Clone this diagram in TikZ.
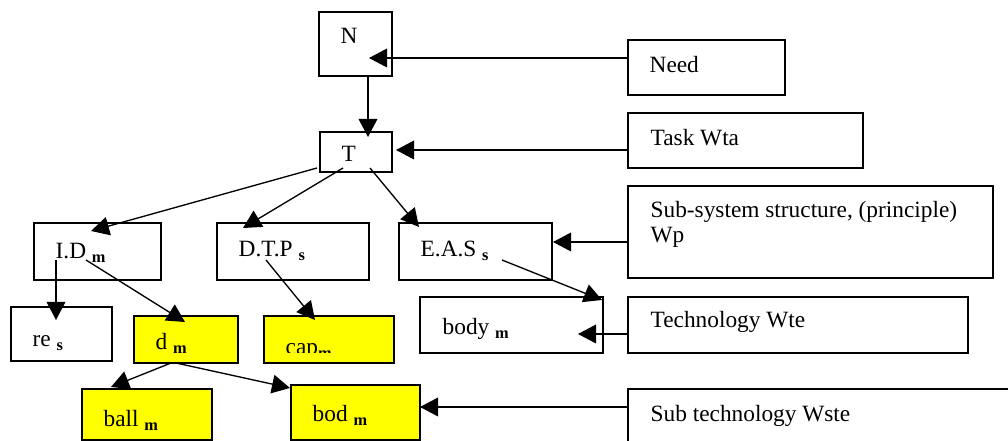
\documentclass[tikz,border=0pt]{standalone}
\usepackage{fontspec}
\setmainfont{Liberation Serif}
\usetikzlibrary{arrows.meta}

\tikzset{every picture/.style={line width=1pt}}
\tikzset{
  box/.style 2 args={draw, line width=1pt, inner sep=0pt, minimum width=#1*0.75pt, minimum height=#2*0.75pt},
  ybox/.style 2 args={box={#1}{#2}, fill={rgb, 255:red, 255; green, 255; blue, 0}},
  lbl/.style={anchor=base west, inner sep=0pt, font=\fontsize{17.5}{18.75}\selectfont},
  arr/.style={-{Triangle[length=13.5pt,width=14pt]}, line width=1pt}
}

\begin{document}
\begin{tikzpicture}[x=0.75pt,y=0.75pt,yscale=-1,xscale=1]
\useasboundingbox (0,0) rectangle (1008,441);
\clip (0,0) rectangle (1008,441);

%Shape: Rectangle [tree]
\node [box={73}{64}] (N) at (355.5,44) {};
\node [box={72}{40}] (T) at (356,152) {};
\node [box={127}{57}] (ID) at (97.5,251.5) {};
\node [box={152}{57}] (DTP) at (293,251.5) {};
\node [box={153}{57}] (EAS) at (475.5,251.5) {};
\node [box={101}{54}] (res) at (61.5,334) {};
\node [ybox={104}{47}] (d) at (186,339.5) {};
\node [ybox={130}{47}] (cap) at (329,339.5) {};
\node [box={183}{56}] (body) at (511.5,325) {};
\node [ybox={130}{51}] (ball) at (147,414.5) {};
\node [ybox={129}{55}] (bod) at (355.5,412.5) {};
%Shape: Rectangle [right column]
\node [box={157}{55}] (need) at (706.5,67.5) {};
\node [box={235}{55}] (task) at (745.5,140.5) {};
\node [box={365}{92}] (sub) at (810.5,232) {};
\node [box={340}{56}] (tech) at (798,325) {};
\node [box={384}{56}] (subtech) at (820,417) {};

% Text Node
\node [lbl] (Nl) at (340,44) {N};
\node [lbl] (Tl) at (341,162) {T};
\node [lbl] (IDl) at (55,259) {I.D \textsubscript{\textbf{m}}};
\node [lbl] (DTPl) at (238,257) {D.T.P \textsubscript{\textbf{s}}};
\node [lbl] (EASl) at (420,257) {E.A.S \textsubscript{\textbf{s}}};
\node [lbl] (resl) at (32,347) {re \textsubscript{\textbf{s}}};
\node [lbl] (dl) at (155,350) {d \textsubscript{\textbf{m}}};
\begin{scope}
\clip (264,316) rectangle (394,353);
\node [lbl] (capl) at (285,355) {cap\textsubscript{\textbf{m}}};
\end{scope}
\node [lbl] (bodyl) at (442,335) {body \textsubscript{\textbf{m}}};
\node [lbl] (balll) at (103,427) {ball \textsubscript{\textbf{m}}};
\node [lbl] (bodl) at (312,422) {bod \textsubscript{\textbf{m}}};
\node [lbl] (needl) at (649,73) {Need};
\node [lbl] (taskl) at (650,146) {Task Wta};
\node [lbl, align=left] (subl) at (650,243) {Sub-system structure, (principle)\\Wp};
\node [lbl] (techl) at (650,328) {Technology Wte};
\node [lbl] (subtechl) at (650,422) {Sub technology Wste};

% arrow ends
\coordinate (needout) at (628,58);
\coordinate (Nin) at (369,58);
\coordinate (Nout) at (368,76);
\coordinate (Tin) at (368,137);
\coordinate (taskout) at (628,150);
\coordinate (Tin2) at (396,150);
\coordinate (Tout1) at (317,168);
\coordinate (Tout2) at (343,168);
\coordinate (Tout3) at (370,168);
\coordinate (IDin) at (91,231);
\coordinate (DTPin) at (243,228);
\coordinate (EASin) at (419,227);
\coordinate (subout) at (628,242);
\coordinate (EASin2) at (553,242);
\coordinate (IDout1) at (56,260);
\coordinate (IDout2) at (86,260);
\coordinate (resin) at (56,320);
\coordinate (din) at (185,322);
\coordinate (DTPout) at (266,260);
\coordinate (capin) at (315,320);
\coordinate (EASout) at (502,260);
\coordinate (bodyin) at (602,300);
\coordinate (techout) at (628,334);
\coordinate (bodyin2) at (578,334);
\coordinate (dout1) at (171,363);
\coordinate (dout2) at (176,363);
\coordinate (ballin) at (111,387);
\coordinate (bodin) at (290,388);
\coordinate (subtechout) at (628,407);
\coordinate (bodin2) at (420,407);

%Straight Lines
\draw [arr] (needout) -- (Nin);
\draw [arr] (Nout) -- (Tin);
\draw [arr] (taskout) -- (Tin2);
\draw [arr] (Tout1) -- (IDin);
\draw [arr] (Tout2) -- (DTPin);
\draw [arr] (Tout3) -- (EASin);
\draw [arr] (subout) -- (EASin2);
\draw [arr] (IDout1) -- (resin);
\draw [arr] (IDout2) -- (din);
\draw [arr] (DTPout) -- (capin);
\draw [arr] (EASout) -- (bodyin);
\draw [arr] (techout) -- (bodyin2);
\draw [arr] (dout1) -- (ballin);
\draw [arr] (dout2) -- (bodin);
\draw [arr] (subtechout) -- (bodin2);

\end{tikzpicture}
\end{document}
